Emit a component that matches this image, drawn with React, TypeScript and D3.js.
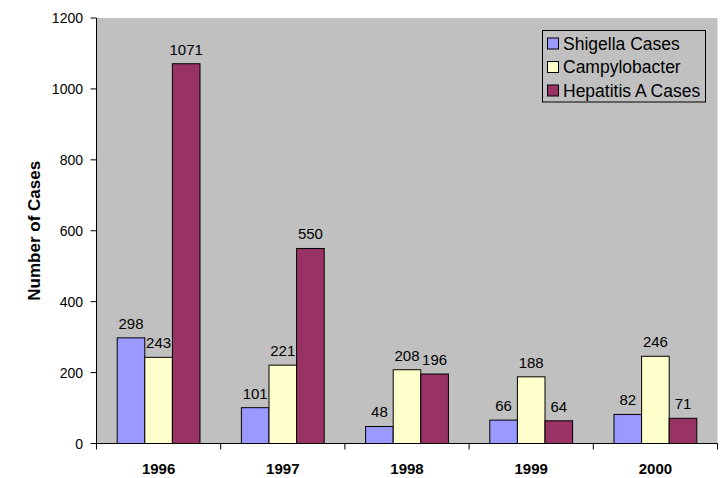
import React from "react";
import * as d3 from "d3";

const years = ["1996", "1997", "1998", "1999", "2000"];
const seriesNames = ["Shigella Cases", "Campylobacter", "Hepatitis A Cases"];
const shigella = [298, 101, 48, 66, 82];
const campylobacter = [243, 221, 208, 188, 246];
const hepatitisA = [1071, 550, 196, 64, 71];
const yTicks = [0, 200, 400, 600, 800, 1000, 1200];
const colors = ["#9999FF", "#FFFFCC", "#993366"];

const W = 723;
const H = 478;
const left = 96.5;
const right = 717.5;
const top = 18;
const bottom = 443.5;
const FONT = "'Liberation Sans', Arial, sans-serif";

export default function App() {
  const series = [shigella, campylobacter, hepatitisA];
  const x0 = d3.scaleBand<string>().domain(years).range([left, right]).paddingInner(0).paddingOuter(0);
  const inner = d3.scaleBand<string>().domain(seriesNames).range([0, x0.bandwidth()]).paddingInner(0).paddingOuter(0.75);
  const y = d3.scaleLinear().domain([0, 1200]).range([bottom, top]);
  const boundaries = [...years.map((d) => x0(d) as number), right];

  return (
    <svg width={W} height={H} style={{ position: "absolute", left: 0, top: 0, fontFamily: FONT }}>
      <rect x={0} y={0} width={W} height={H} fill="#fff" />
      <rect x={left} y={top} width={right - left} height={bottom - top} fill="#C0C0C0" />
      {years.map((yr, i) => (
        <g key={yr}>
          {series.map((vals, s) => {
            const bx = (x0(yr) as number) + (inner(seriesNames[s]) as number);
            const bw = inner.bandwidth();
            const v = vals[i];
            return (
              <g key={s}>
                <rect x={bx} y={y(v)} width={bw} height={bottom - y(v)} fill={colors[s]} stroke="#000" strokeWidth={1} />
                <text x={bx + bw / 2} y={y(v) - 9} textAnchor="middle" fontSize={15} fill="#000">
                  {v}
                </text>
              </g>
            );
          })}
          <text x={(x0(yr) as number) + x0.bandwidth() / 2} y={474} textAnchor="middle" fontSize={15} fontWeight="bold" fill="#000">
            {yr}
          </text>
        </g>
      ))}
      <line x1={left} x2={left} y1={top} y2={bottom} stroke="#000" strokeWidth={1} />
      <line x1={left} x2={right} y1={bottom} y2={bottom} stroke="#000" strokeWidth={1} />
      {yTicks.map((t) => (
        <g key={t}>
          <line x1={left - 6} x2={left} y1={y(t)} y2={y(t)} stroke="#000" />
          <text x={83} y={y(t) + 5} textAnchor="end" fontSize={14} fill="#000">
            {t}
          </text>
        </g>
      ))}
      {boundaries.map((bx, i) => (
        <line key={i} x1={bx} x2={bx} y1={bottom} y2={bottom + 6} stroke="#000" />
      ))}
      <text
        transform={`translate(40, ${(top + bottom) / 2}) rotate(-90)`}
        textAnchor="middle"
        fontSize={17}
        fontWeight="bold"
        fill="#000"
      >
        Number of Cases
      </text>
      <rect x={542.5} y={30.5} width={163} height={71.5} fill="#C0C0C0" stroke="#000" strokeWidth={1} />
      {seriesNames.map((name, s) => {
        const cy = 43.5 + s * 23.5;
        return (
          <g key={name}>
            <rect x={547.5} y={cy - 5.5} width={11} height={11} fill={colors[s]} stroke="#000" />
            <text x={563} y={cy + 6} fontSize={17.5} fill="#000">
              {name}
            </text>
          </g>
        );
      })}
    </svg>
  );
}
